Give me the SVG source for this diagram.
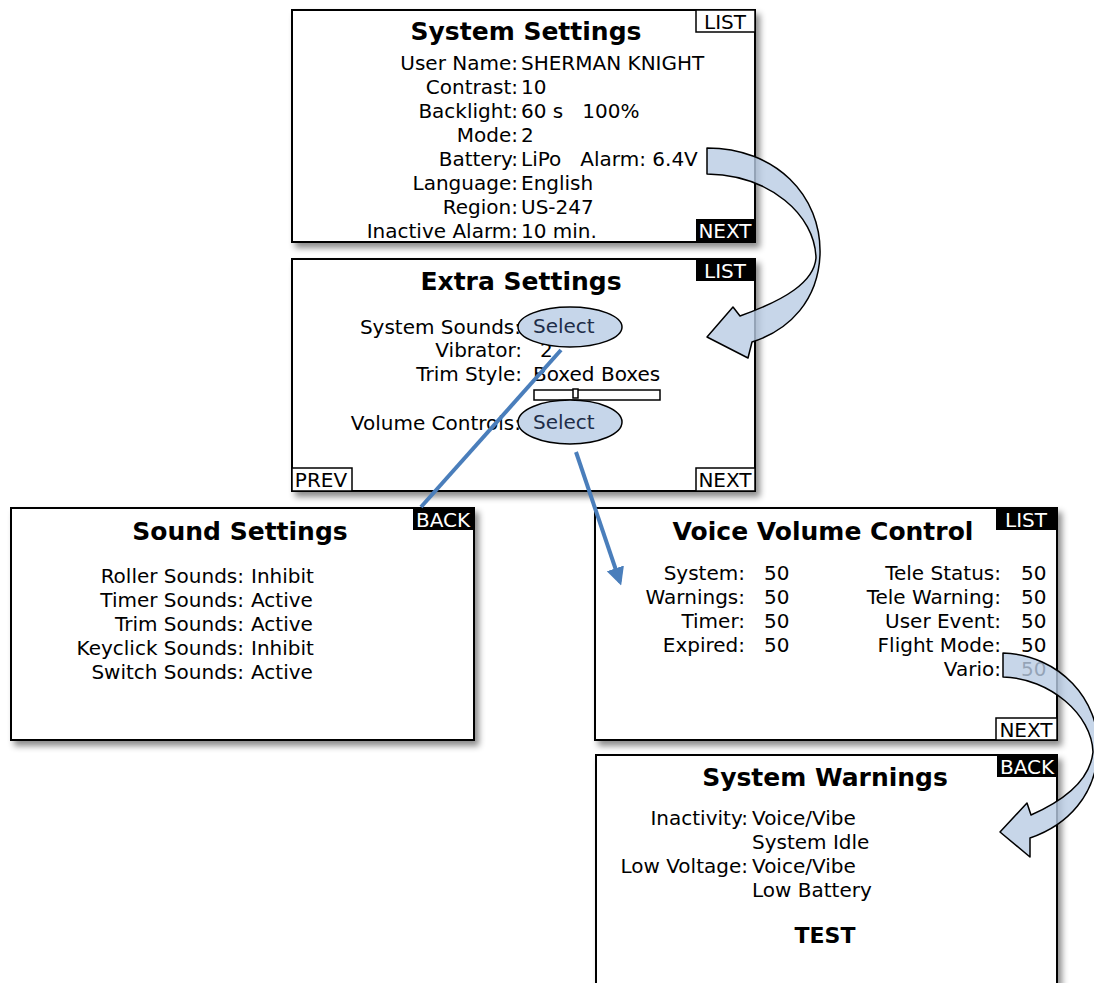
<svg xmlns="http://www.w3.org/2000/svg" width="1094" height="983" viewBox="0 0 1094 983">
<style>
.scr{fill:#fff;stroke:#000;stroke-width:2}
.t{font-family:"DejaVu Sans",sans-serif;font-size:20px;fill:#000}
.e{text-anchor:end}
.ttl{font-family:"DejaVu Sans",sans-serif;font-size:25px;font-weight:bold;text-anchor:middle;fill:#000}
.tagb{fill:#000}
.tago{fill:#fff;stroke:#000;stroke-width:1.5}
.tw{font-family:"DejaVu Sans",sans-serif;font-size:20px;fill:#fff;text-anchor:middle}
.tk{font-family:"DejaVu Sans",sans-serif;font-size:20px;fill:#000;text-anchor:middle}
.sel{fill:#c6d6ea;stroke:#000;stroke-width:1.5}
.selt{font-family:"DejaVu Sans",sans-serif;font-size:20px;fill:#1e2d48}
.ln{stroke:#4a7ebb;stroke-width:4;fill:none}
.carrow{fill:#b9cce3;fill-opacity:0.8;stroke:#000;stroke-width:1.5;stroke-linejoin:round}
</style>
<defs>
<filter id="sh" x="-5%" y="-5%" width="115%" height="120%">
<feDropShadow dx="4" dy="5" stdDeviation="3" flood-color="#000" flood-opacity="0.45"/>
</filter>
<marker id="ah" viewBox="0 0 10 10" refX="8" refY="5" markerWidth="4.5" markerHeight="4.5" orient="auto">
<path d="M0,0 L10,5 L0,10 z" fill="#4a7ebb"/>
</marker>
</defs>

<g id="system-settings">
<rect class="scr" x="292" y="10" width="463" height="232" filter="url(#sh)"/>
<rect class="tago" x="696" y="10" width="59" height="22"/>
<text class="tk" x="725" y="29">LIST</text>
<rect class="tagb" x="696" y="219" width="59" height="23"/>
<text class="tw" x="725" y="238">NEXT</text>
<text class="ttl" x="526" y="40">System Settings</text>
<text class="t e" x="518" y="70">User Name:</text><text class="t" x="521" y="70">SHERMAN KNIGHT</text>
<text class="t e" x="518" y="94">Contrast:</text><text class="t" x="521" y="94">10</text>
<text class="t e" x="518" y="118">Backlight:</text><text class="t" x="521" y="118" xml:space="preserve">60 s   100%</text>
<text class="t e" x="518" y="142">Mode:</text><text class="t" x="521" y="142">2</text>
<text class="t e" x="518" y="166">Battery:</text><text class="t" x="521" y="166" xml:space="preserve">LiPo   Alarm: 6.4V</text>
<text class="t e" x="518" y="190">Language:</text><text class="t" x="521" y="190">English</text>
<text class="t e" x="518" y="214">Region:</text><text class="t" x="521" y="214">US-247</text>
<text class="t e" x="518" y="238">Inactive Alarm:</text><text class="t" x="521" y="238">10 min.</text>
</g>

<g id="extra-settings">
<rect class="scr" x="292" y="259" width="463" height="232" filter="url(#sh)"/>
<rect class="tagb" x="696" y="259" width="59" height="22"/>
<text class="tw" x="725" y="278">LIST</text>
<rect class="tago" x="292" y="468" width="60" height="23"/>
<text class="tk" x="321" y="487">PREV</text>
<rect class="tago" x="696" y="468" width="59" height="23"/>
<text class="tk" x="725" y="487">NEXT</text>
<text class="ttl" x="521" y="290">Extra Settings</text>
<text class="t e" x="521" y="334">System Sounds:</text>
<text class="t e" x="522" y="357">Vibrator:</text><text class="t" x="540" y="357">2</text>
<text class="t e" x="522" y="381">Trim Style:</text><text class="t" x="533" y="381">Boxed Boxes</text>
<rect x="534" y="390" width="126" height="10" fill="#fff" stroke="#000" stroke-width="1.5"/>
<rect x="573" y="389" width="5" height="9" fill="#fff" stroke="#000" stroke-width="1.5"/>
<text class="t e" x="521" y="430">Volume Controls:</text>
<ellipse class="sel" cx="570" cy="327" rx="52" ry="20"/>
<text class="selt" x="533" y="333">Select</text>
<ellipse class="sel" cx="570" cy="422" rx="52" ry="22"/>
<text class="selt" x="533" y="429">Select</text>
</g>

<g id="sound-settings">
<rect class="scr" x="11" y="508" width="463" height="232" filter="url(#sh)"/>
<rect class="tagb" x="413" y="508" width="61" height="22"/>
<text class="tw" x="443" y="527">BACK</text>
<text class="ttl" x="240" y="540">Sound Settings</text>
<text class="t e" x="244" y="583">Roller Sounds:</text><text class="t" x="251" y="583">Inhibit</text>
<text class="t e" x="244" y="607">Timer Sounds:</text><text class="t" x="251" y="607">Active</text>
<text class="t e" x="244" y="631">Trim Sounds:</text><text class="t" x="251" y="631">Active</text>
<text class="t e" x="244" y="655">Keyclick Sounds:</text><text class="t" x="251" y="655">Inhibit</text>
<text class="t e" x="244" y="679">Switch Sounds:</text><text class="t" x="251" y="679">Active</text>
</g>

<g id="voice-volume-control">
<rect class="scr" x="595" y="508" width="462" height="232" filter="url(#sh)"/>
<rect class="tagb" x="996" y="508" width="61" height="22"/>
<text class="tw" x="1026" y="527">LIST</text>
<rect class="tago" x="996" y="718" width="61" height="22"/>
<text class="tk" x="1026" y="737">NEXT</text>
<text class="ttl" x="823" y="540">Voice Volume Control</text>
<text class="t e" x="745" y="580">System:</text><text class="t" x="764" y="580">50</text>
<text class="t e" x="745" y="604">Warnings:</text><text class="t" x="764" y="604">50</text>
<text class="t e" x="745" y="628">Timer:</text><text class="t" x="764" y="628">50</text>
<text class="t e" x="745" y="652">Expired:</text><text class="t" x="764" y="652">50</text>
<text class="t e" x="1001" y="580">Tele Status:</text><text class="t" x="1021" y="580">50</text>
<text class="t e" x="1001" y="604">Tele Warning:</text><text class="t" x="1021" y="604">50</text>
<text class="t e" x="1001" y="628">User Event:</text><text class="t" x="1021" y="628">50</text>
<text class="t e" x="1001" y="652">Flight Mode:</text><text class="t" x="1021" y="652">50</text>
<text class="t e" x="1001" y="676">Vario:</text><text class="t" x="1021" y="676">50</text>
</g>

<g id="system-warnings">
<rect class="scr" x="596" y="755" width="461" height="250" filter="url(#sh)"/>
<rect class="tagb" x="997" y="755" width="60" height="22"/>
<text class="tw" x="1027" y="774">BACK</text>
<text class="ttl" x="825" y="786">System Warnings</text>
<text class="t e" x="748" y="825">Inactivity:</text><text class="t" x="752" y="825">Voice/Vibe</text>
<text class="t" x="752" y="849">System Idle</text>
<text class="t e" x="748" y="873">Low Voltage:</text><text class="t" x="752" y="873">Voice/Vibe</text>
<text class="t" x="752" y="897">Low Battery</text>
<text class="ttl" x="825" y="943" style="font-size:22px">TEST</text>
</g>

<g id="connectors">
<line class="ln" x1="561" y1="350" x2="421" y2="507"/>
<line class="ln" x1="576" y1="452" x2="620" y2="582" marker-end="url(#ah)"/>
<path class="carrow" d="M707,148 C775,148 822,195 820,255 C818,300 790,330 752,342 L748,358 L707,337 L733,307 L740,316 C785,300 814,282 816,258 C815,215 770,175 707,174 Z"/>
<path class="carrow" d="M1003,653 C1060,655 1100,700 1098,750 C1096,795 1068,825 1030,838 L1030,857 L1000,832 L1027,803 L1031,815 C1065,800 1090,780 1093,752 C1092,715 1050,678 1003,677 Z"/>
</g>
</svg>
